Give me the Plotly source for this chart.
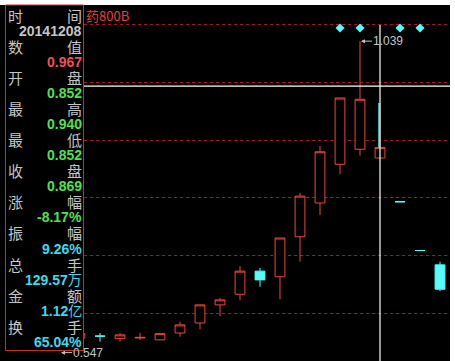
import plotly.graph_objects as go

W, H = 455, 361

# ---------------- data ----------------
day_index = list(range(20))
opens  = [0.556, 0.564, 0.567, 0.563, 0.564, 0.561, 0.572, 0.588, 0.617, 0.634,
          0.671, 0.662, 0.726, 0.780, 0.842, 0.866, 0.852, 0.782, 0.704, 0.681]
closes = [0.552, 0.571, 0.567, 0.569, 0.565, 0.571, 0.585, 0.617, 0.625, 0.671,
          0.657, 0.724, 0.791, 0.862, 0.948, 0.946, 0.869, 0.782, 0.704, 0.642]
highs  = [0.560, 0.573, 0.572, 0.572, 0.572, 0.571, 0.590, 0.617, 0.628, 0.679,
          0.676, 0.724, 0.796, 0.871, 0.948, 1.039, 0.940, 0.782, 0.704, 0.686]
lows   = [0.547, 0.560, 0.558, 0.558, 0.561, 0.561, 0.566, 0.578, 0.599, 0.625,
          0.646, 0.626, 0.686, 0.761, 0.826, 0.856, 0.852, 0.782, 0.704, 0.639]
# colour group of each candle: 'up' = red hollow, 'down' = cyan filled
groups = ['up', 'up', 'down', 'up', 'up', 'up', 'up', 'up', 'up', 'up',
          'down', 'up', 'up', 'up', 'up', 'up', 'up', 'down', 'down', 'down']
marker_days = [14, 15, 17, 18]
selected_day = 16
cursor_value = 0.967

title_text = "药800B"
panel_left = ["时", "数", "开", "最", "最", "收", "涨", "振", "总", "金", "换"]
panel_right = ["间", "值", "盘", "高", "低", "盘", "幅", "幅", "手", "额", "手"]
panel_values = ["<b>20141208</b>", "<b>0.967</b>", "<b>0.852</b>", "<b>0.940</b>",
                "<b>0.852</b>", "<b>0.869</b>", "<b>-8.17%</b>", "<b>9.26%</b>",
                "<b>129.57</b>万", "<b>1.12</b>亿", "<b>65.04%</b>"]

# ---------------- styles ----------------
RED = '#ee4444'
CYAN = '#54fcfc'
GREY = '#c4c4c4'
VAL_COLORS = [GREY, '#f05050', '#50e050', '#50e050', '#50e050', '#50e050',
              '#50e050', '#40d8ec', '#40d8ec', '#40d8ec', '#40d8ec']
Y_RANGE = [0.5272, 1.0968]
X_RANGE = [-3, 19.5]
PLOT_R = 450
PLOT_T = 5

def px_x(px):
    return px / W

def px_y(py):
    return 1 - py / H

fig = go.Figure()

for g, col, fill in [('up', RED, 'black'), ('down', CYAN, CYAN)]:
    sel = [i for i in day_index if groups[i] == g]
    fig.add_trace(go.Candlestick(
        x=sel,
        open=[opens[i] for i in sel], high=[highs[i] for i in sel],
        low=[lows[i] for i in sel], close=[closes[i] for i in sel],
        increasing=dict(line=dict(color=col, width=1), fillcolor=fill),
        decreasing=dict(line=dict(color=col, width=1), fillcolor=fill),
        whiskerwidth=0, showlegend=False, hoverinfo='skip'))

# diamonds at top
fig.add_trace(go.Scatter(
    x=marker_days, y=[1.060] * len(marker_days), mode='markers',
    marker=dict(symbol='diamond', size=7, color=CYAN, line=dict(width=0)),
    showlegend=False, hoverinfo='skip'))

# cyan upper shadow next to the cursor line
fig.add_trace(go.Scatter(
    x=[selected_day - 0.06, selected_day - 0.06],
    y=[closes[selected_day], highs[selected_day]], mode='lines',
    line=dict(color=CYAN, width=1), showlegend=False, hoverinfo='skip'))

shapes = []
# cross-hair
shapes.append(dict(type='line', xref='x', yref='y', x0=selected_day, x1=selected_day,
                   y0=Y_RANGE[0], y1=1.0648, line=dict(color='white', width=1.2),
                   layer='above'))
shapes.append(dict(type='line', xref='paper', yref='y', x0=px_x(83), x1=px_x(PLOT_R),
                   y0=cursor_value, y1=cursor_value, line=dict(color='white', width=1.2),
                   layer='above'))
# left info panel
shapes.append(dict(type='rect', xref='paper', yref='paper', x0=0, x1=px_x(83.5),
                   y0=px_y(361), y1=px_y(PLOT_T), fillcolor='black',
                   line=dict(width=0), layer='above'))
shapes.append(dict(type='rect', xref='paper', yref='paper', x0=px_x(5.5), x1=px_x(83.5),
                   y0=px_y(350.5), y1=px_y(PLOT_T), fillcolor='rgba(0,0,0,0)',
                   line=dict(color='#c03030', width=1), layer='above'))

annotations = []
row0, dy = 15, 15.57
CJK = "Noto Sans CJK SC"
for k in range(11):
    yl = row0 + dy * (2 * k)
    yv = row0 + dy * (2 * k + 1)
    annotations.append(dict(xref='paper', yref='paper', x=px_x(7), y=px_y(yl),
                            text=panel_left[k], showarrow=False, xanchor='left',
                            yanchor='middle', borderpad=0,
                            font=dict(family=CJK, size=15, color=GREY)))
    annotations.append(dict(xref='paper', yref='paper', x=px_x(83), y=px_y(yl),
                            text=panel_right[k], showarrow=False, xanchor='right',
                            yanchor='middle', borderpad=0,
                            font=dict(family=CJK, size=15, color=GREY)))
    annotations.append(dict(xref='paper', yref='paper', x=px_x(83), y=px_y(yv),
                            text=panel_values[k], showarrow=False, xanchor='right',
                            yanchor='middle', borderpad=0,
                            font=dict(family="Liberation Sans, " + CJK, size=14,
                                      color=VAL_COLORS[k])))

annotations.append(dict(xref='paper', yref='paper', x=px_x(84), y=px_y(15),
                        text=title_text, showarrow=False, xanchor='left', yanchor='middle',
                        font=dict(family=CJK, size=13, color='#e04040')))

hi_i = max(day_index, key=lambda i: highs[i])
lo_i = min(day_index, key=lambda i: lows[i])
annotations.append(dict(xref='x', yref='y', x=hi_i, y=highs[hi_i],
                        text=f"{highs[hi_i]:.3f}", showarrow=True, arrowhead=2,
                        arrowsize=0.8, arrowwidth=1, arrowcolor=GREY, ax=12, ay=0,
                        xanchor='left', yanchor='middle', standoff=1, borderpad=0,
                        font=dict(family="Liberation Sans", size=12, color=GREY)))
annotations.append(dict(xref='x', yref='y', x=lo_i, y=lows[lo_i],
                        text=f"{lows[lo_i]:.3f}", showarrow=True, arrowhead=2,
                        arrowsize=0.8, arrowwidth=1, arrowcolor=GREY, ax=12, ay=0,
                        xanchor='left', yanchor='middle', standoff=1, borderpad=0,
                        yshift=-4,
                        font=dict(family="Liberation Sans", size=12, color=GREY)))

fig.update_layout(
    width=W, height=H, margin=dict(l=0, r=0, t=0, b=0),
    paper_bgcolor='white', plot_bgcolor='black',
    xaxis=dict(domain=[0, PLOT_R / W], range=X_RANGE, visible=False,
               rangeslider=dict(visible=False)),
    yaxis=dict(domain=[0, 1 - PLOT_T / H], range=Y_RANGE, showticklabels=False,
               ticks='', zeroline=False, showline=False, showgrid=True,
               gridcolor='#a01c1c', griddash='dot', gridwidth=1,
               tick0=0.6040, dtick=0.0922),
    shapes=shapes, annotations=annotations,
)

fig.write_html("out.html")
